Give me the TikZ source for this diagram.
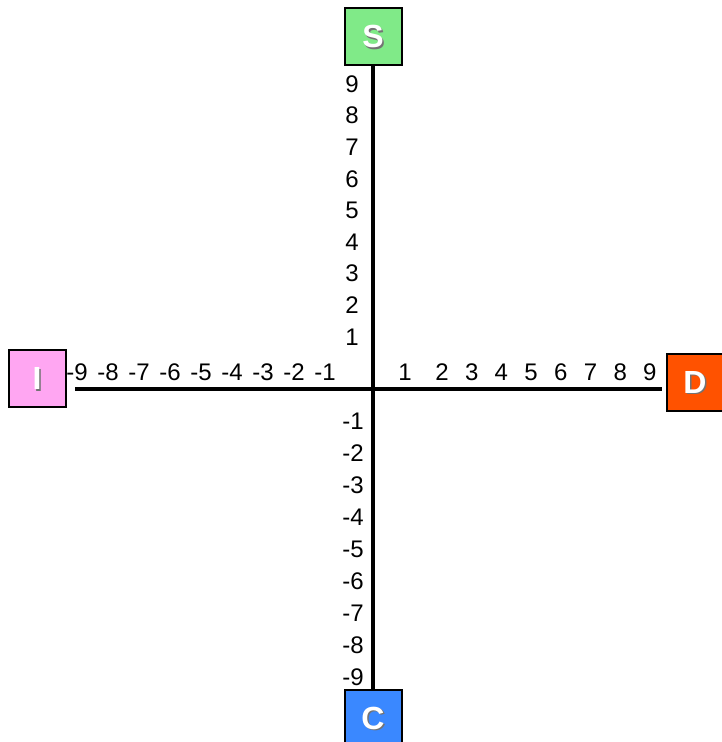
\documentclass[tikz,border=0pt]{standalone}
\usepackage{fontspec}
\setmainfont{Liberation Sans}
\usetikzlibrary{positioning}

\definecolor{sgreen}{RGB}{128,234,136}
\definecolor{ipink}{RGB}{255,166,242}
\definecolor{dorange}{RGB}{255,82,0}
\definecolor{cblue}{RGB}{58,136,255}

\begin{document}
\begin{tikzpicture}[
    x=1pt, y=-1pt,
    node font=\fontsize{24}{26}\selectfont,
    axisbox/.style={draw=black, line width=2pt, minimum size=57pt, inner sep=0pt},
    boxletter/.style={font=\fontsize{32}{34}\selectfont\bfseries},
    axisline/.style={line width=4.5pt, black},
    ticklabel/.style={inner sep=0pt}
]
  \useasboundingbox (0,0) rectangle (721,742);

  % --- BOXES ---
  \node[axisbox, fill=sgreen]  (S) at (373,36.5) {};
  \node[axisbox, fill=ipink]   (I) at (37,378.5) {};
  \node[axisbox, fill=dorange] (D) at (695,382) {};
  \node[axisbox, fill=cblue]   (C) at (373,718) {};
  \foreach \b in {S,I,D,C} {
    \node[boxletter, text=black!55] at ([xshift=1.5pt,yshift=-1.5pt]\b.center) {\b};
    \node[boxletter, text=white] at (\b.center) {\b};
  }

  % --- AXES ---
  \coordinate (hleft) at (75,389);
  \coordinate (hright) at (662,389);
  \draw[axisline] (S.south) -- (C.north);
  \draw[axisline] (hleft) -- (hright);

  % --- VERTICAL LABELS ---
  \foreach \i in {1,...,9}
    \node[ticklabel, anchor=east] (v\i) at (359,{84+(9-\i)*31.6}) {\i};
  \foreach \i in {1,...,9}
    \node[ticklabel, anchor=east] (vm\i) at (364,{421+(\i-1)*32}) {-\i};

  % --- HORIZONTAL LABELS ---
  \foreach \i in {1,...,9}
    \node[ticklabel] (hm\i) at ({77+(9-\i)*31},372) {-\i};
  \node[ticklabel] (h1) at (405,372) {1};
  \foreach \i in {2,...,9}
    \node[ticklabel] (h\i) at ({442+(\i-2)*29.7},372) {\i};

\end{tikzpicture}
\end{document}
